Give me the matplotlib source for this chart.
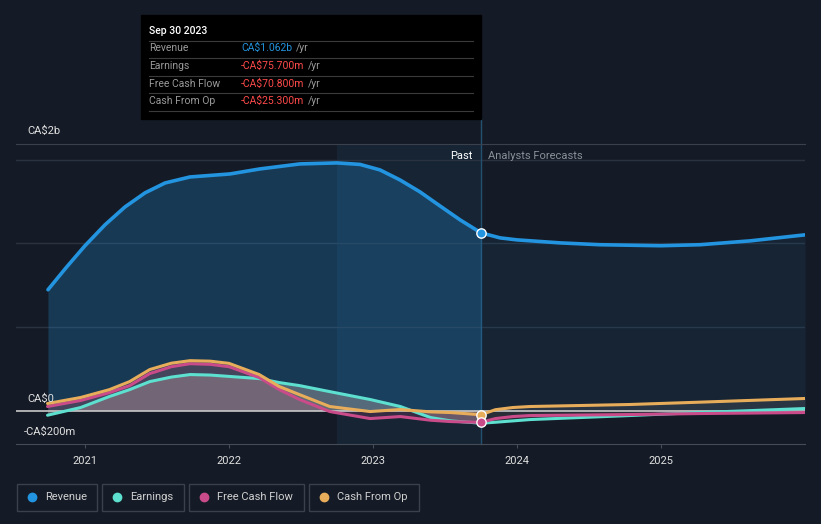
import matplotlib.pyplot as plt
import numpy as np

plt.rcParams['font.family'] = ['Roboto', 'DejaVu Sans']

# data (CA$ millions), x in fractional years
rev_x = [2020.743, 2020.868, 2021.0, 2021.139, 2021.278, 2021.417, 2021.556, 2021.729,
         2022.007, 2022.215, 2022.493, 2022.75, 2022.91, 2023.049, 2023.188, 2023.326,
         2023.465, 2023.604, 2023.75, 2023.882, 2024.0, 2024.299, 2024.576, 2025.0,
         2025.271, 2025.618, 2026.0]
revenue = [722, 853, 985, 1110, 1217, 1301, 1360, 1396,
           1414, 1444, 1474, 1480, 1471, 1438, 1378, 1307,
           1223, 1140, 1062, 1032, 1020, 1002, 991, 985,
           991, 1014, 1050]

small_x = [2020.74, 2020.97, 2021.17, 2021.31, 2021.45, 2021.60, 2021.73, 2021.87, 2022.0,
           2022.21, 2022.35, 2022.49, 2022.70, 2022.98, 2023.19, 2023.40, 2023.54, 2023.75]
earnings = [-28, 18, 84, 125, 173, 200, 215, 212, 204, 191, 167, 149, 113, 66, 24, -42, -62, -75.7]
fcf = [24, 60, 107, 149, 221, 262, 280, 276, 262, 197, 125, 66, -6, -48, -36, -58, -66, -70.8]
cfo = [42, 78, 125, 173, 245, 283, 298, 295, 282, 215, 143, 95, 24, -6, 6, -8, -12, -25.3]

fc_x = [2023.75, 2023.85, 2023.97, 2024.09, 2024.78, 2025.27, 2026.0]
earnings_fc = [-75.7, -70, -62, -54, -30, -12, 12]
fcf_fc = [-70.8, -48, -36, -30, -24, -18, -12]
cfo_fc = [-25.3, 5, 18, 24, 36, 50, 72]

years = [2021, 2022, 2023, 2024, 2025]
now = 2023.75

BG = '#151b26'
C_REV = '#2394df'
C_EARN = '#5de0cf'
C_FCF = '#c94b8a'
C_CFO = '#e8ad5a'

fig = plt.figure(figsize=(8.21, 5.24), dpi=100, facecolor=BG)
W, H = 821, 524


def fx(x):
    return x / W


def fy(y):
    return 1 - y / H


ax = fig.add_axes([fx(16), fy(444), 789 / W, 300 / H])
ax.set_facecolor(BG)
ax.set_xlim(2020.521, 2026.0)
ax.set_ylim(-200, 1593)

# highlight band and past/future divider
ax.axvspan(2022.75, now, color=C_REV, alpha=0.08, lw=0, zorder=0)
ax.axvline(now, ymin=0, ymax=(444 - 119) / 300, color='#24506f', lw=1, clip_on=False, zorder=1)

# grid
for v in [500, 1000, 1500]:
    ax.axhline(v, color='#2a3240', lw=1, zorder=0.5)
ax.axhline(0, color='#c8c8c8', lw=1.2, zorder=3)

# revenue
rx = np.array(rev_x)
rv = np.array(revenue)
past = rx <= now
fut = rx >= now
ax.fill_between(rx[past], 0, rv[past], color=C_REV, alpha=0.25, lw=0, zorder=1)
ax.fill_between(rx[fut], 0, rv[fut], color=C_REV, alpha=0.08, lw=0, zorder=1)
ax.plot(rx, rv, color=C_REV, lw=2.6, zorder=4, solid_capstyle='round', solid_joinstyle='round')

# small series fills (past)
ax.fill_between(small_x, 0, earnings, color='#a0a0a0', alpha=0.45, lw=0, zorder=2)
ax.fill_between(small_x, 0, fcf, color=C_FCF, alpha=0.18, lw=0, zorder=2)
ax.fill_between(small_x, 0, cfo, color=C_CFO, alpha=0.08, lw=0, zorder=2)
# forecast fills
ax.fill_between(fc_x, earnings_fc, cfo_fc, color='#9a9a9a', alpha=0.15, lw=0, zorder=2)

kw = dict(lw=2.2, solid_joinstyle='round', solid_capstyle='round')
ax.plot(small_x, earnings, color=C_EARN, zorder=4, **kw)
ax.plot(small_x, fcf, color=C_FCF, zorder=5, **kw)
ax.plot(small_x, cfo, color=C_CFO, zorder=6, **kw)
ax.plot(fc_x, earnings_fc, color=C_EARN, zorder=4, **kw)
ax.plot(fc_x, fcf_fc, color=C_FCF, zorder=5, **kw)
ax.plot(fc_x, cfo_fc, color=C_CFO, zorder=6, **kw)

# markers at the current point
ax.scatter([now], [revenue[rev_x.index(now)]], s=45, color=C_REV, edgecolor='white', lw=1, zorder=8)
ax.scatter([now], [cfo[-1]], s=45, color=C_CFO, edgecolor='white', lw=1, zorder=8)
ax.scatter([now], [fcf[-1]], s=45, color=C_FCF, edgecolor='white', lw=1, zorder=9)

# axes styling
for s in ['left', 'right']:
    ax.spines[s].set_visible(False)
ax.spines['bottom'].set_color('#444c58')
ax.spines['top'].set_color('#3a414c')
ax.set_yticks([])
ax.set_xticks(years)
ax.set_xticklabels([str(y) for y in years], color='#e0e0e0', fontsize=8)
ax.tick_params(axis='x', length=3, color='#444c58', pad=6)

# y labels
fig.text(fx(27), fy(131), 'CA$2b', color='#e0e0e0', fontsize=8, va='center')
fig.text(fx(27), fy(399), 'CA$0', color='#e0e0e0', fontsize=8, va='center')
fig.text(fx(24), fy(432), '-CA$200m', color='#e0e0e0', fontsize=8, va='center')

fig.text(fx(472), fy(156), 'Past', color='#ffffff', fontsize=8, va='center', ha='right')
fig.text(fx(488), fy(156), 'Analysts Forecasts', color='#8a8f98', fontsize=8, va='center')

# tooltip
tip = plt.Rectangle((fx(141), fy(119)), (481 - 141) / W, (119 - 15) / H,
                    transform=fig.transFigure, color='#000000', zorder=10)
fig.patches.append(tip)
fig.text(fx(149), fy(31), 'Sep 30 2023', color='#ffffff', fontsize=7.5, va='center',
         fontweight='medium', zorder=11)
rows = [('Revenue', 'CA$1.062b', '#2394df'),
        ('Earnings', '-CA$75.700m', '#ff4a4a'),
        ('Free Cash Flow', '-CA$70.800m', '#ff4a4a'),
        ('Cash From Op', '-CA$25.300m', '#ff4a4a')]
row_y = [48, 66, 84, 101]
for (lab, val, col), yy in zip(rows, row_y):
    fig.text(fx(149), fy(yy), lab, color='#9a9a9a', fontsize=7.5, va='center', zorder=11)
    t = fig.text(fx(241), fy(yy), val, color=col, fontsize=7.5, va='center', zorder=11)
    fig.canvas.draw()
    bb = t.get_window_extent()
    fig.text(bb.x1 / W + fx(4), fy(yy), '/yr', color='#9a9a9a', fontsize=7.5, va='center', zorder=11)
for yy in [41, 58, 76, 93, 111]:
    fig.lines.append(plt.Line2D([fx(149), fx(473)], [fy(yy), fy(yy)], transform=fig.transFigure,
                                color='#3a3a3a', lw=0.8, zorder=11))

# legend boxes
legend = [('Revenue', C_REV, 17, 97), ('Earnings', C_EARN, 102, 184),
          ('Free Cash Flow', C_FCF, 189, 304), ('Cash From Op', C_CFO, 309, 419)]
for lab, col, x0, x1 in legend:
    box = plt.Rectangle((fx(x0), fy(511)), (x1 - x0) / W, 27 / H, transform=fig.transFigure,
                        facecolor='none', edgecolor='#3a414c', lw=1)
    fig.patches.append(box)
    fig.lines.append(plt.Line2D([fx(x0 + 15)], [fy(497)], transform=fig.transFigure, marker='o',
                                markersize=6, color=col, lw=0))
    fig.text(fx(x0 + 28), fy(497), lab, color='#d0d0d0', fontsize=8, va='center')

fig.savefig('out.png', dpi=100, facecolor=BG)
